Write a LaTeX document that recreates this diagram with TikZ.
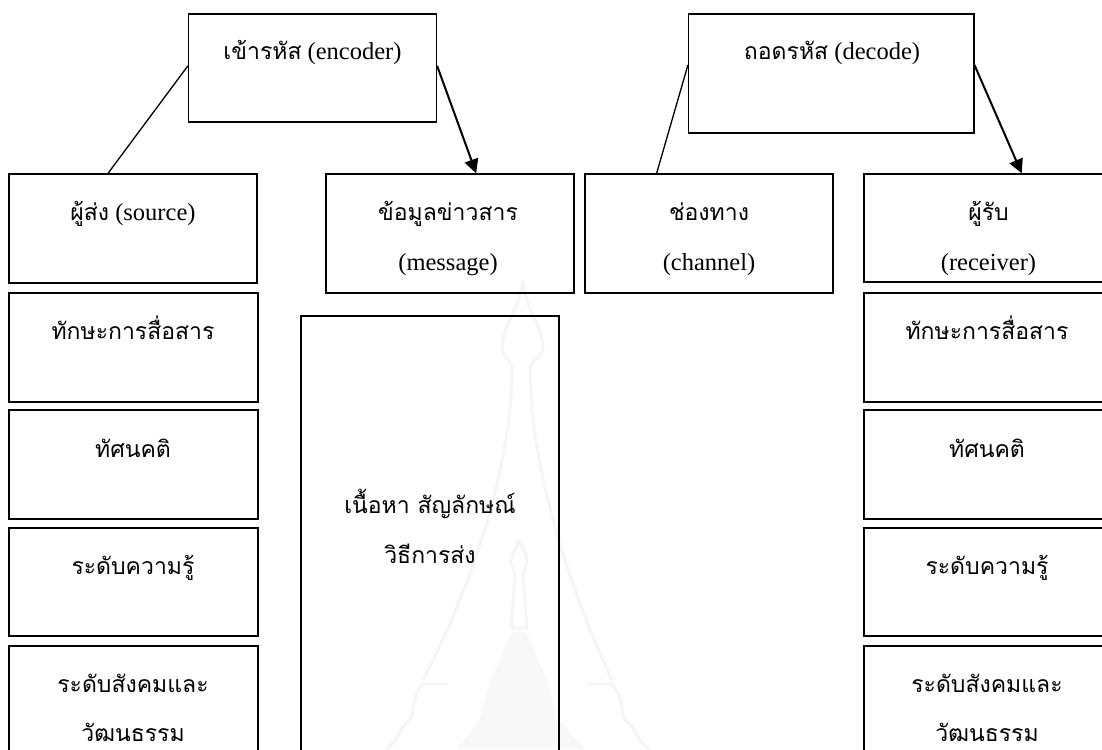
\documentclass[tikz,border=0pt]{standalone}
\usepackage{fontspec}
\setmainfont{Liberation Serif}
\newfontfamily\thaifont[Script=Thai]{Loma}
\newcommand{\thx}[1]{{\thaifont\fontsize{23}{23}\selectfont #1}}
\usetikzlibrary{arrows.meta,calc}
\definecolor{wmark}{HTML}{F5F5F5}
\definecolor{wmarkb}{HTML}{F8F8F8}
\tikzset{
  boxs/.style={draw=black,line width=1.4pt,rectangle,inner sep=0pt},
  lab/.style={align=center,font=\fontsize{24.5}{50}\selectfont,inner sep=0pt,anchor=base},
  conn/.style={line width=1.3pt},
  arr/.style={line width=2pt,-{Triangle[length=14pt,width=14pt]}},
  wm/.style={draw=wmark,line width=3pt,line join=round}
}
\begin{document}
\begin{tikzpicture}[x=1pt,y=-1pt]
\useasboundingbox (0,0) rectangle (1102,749);
\fill[white] (0,0) rectangle (1102,749);
% faint watermark
\draw[wm] (522.7,280) .. controls (520,310) and (502,325) .. (502,348)
  .. controls (502,356) and (510,360) .. (512,367)
  .. controls (512,470) and (470,590) .. (423,680);
\draw[wm] (522.7,280) .. controls (525,310) and (543,325) .. (543,348)
  .. controls (543,356) and (532,360) .. (530,367)
  .. controls (530,470) and (570,590) .. (612,680);
\draw[wm] (448,684) -- (423,684) .. controls (410,700) and (415,710) .. (410,720)
  .. controls (400,725) and (400,740) .. (386,749);
\draw[wm] (587,684) -- (612,684) .. controls (625,700) and (620,710) .. (625,720)
  .. controls (635,725) and (635,740) .. (650,749);
\draw[wm] (519,540) .. controls (515,550) and (511,555) .. (511,560)
  .. controls (511,568) and (515,570) .. (515,575) -- (511,628)
  -- (527,628) -- (523,575) .. controls (523,570) and (527,568) .. (527,560)
  .. controls (527,555) and (523,550) .. (519,540);
\fill[wmarkb] (512,632) -- (526,632) -- (547,680) -- (557,718) -- (585,749)
  -- (458,749) -- (480,718) -- (491,680) -- cycle;
% boxes
\node[boxs,minimum width=247.8pt,minimum height=108pt] (enc) at (312.5,68) {};
\node[boxs,minimum width=285.2pt,minimum height=119pt] (dec) at (831.2,73.5) {};
\node[boxs,minimum width=248pt,minimum height=109pt] (src) at (133,228.5) {};
\node[boxs,minimum width=248pt,minimum height=119pt] (msg) at (450,233.5) {};
\node[boxs,minimum width=248pt,minimum height=119pt] (chn) at (709,233.5) {};
\node[boxs,minimum width=250pt,minimum height=108pt] (rcv) at (989,228) {};
\node[boxs,minimum width=258pt,minimum height=450pt] (cnt) at (430,541) {};
\node[boxs,minimum width=249pt,minimum height=109pt] (l1) at (133.5,347.5) {};
\node[boxs,minimum width=249pt,minimum height=109pt] (l2) at (133.5,464.5) {};
\node[boxs,minimum width=249pt,minimum height=108pt] (l3) at (133.5,582) {};
\node[boxs,minimum width=249pt,minimum height=120pt] (l4) at (133.5,706) {};
\node[boxs,minimum width=250pt,minimum height=109pt] (r1) at (989,347.5) {};
\node[boxs,minimum width=250pt,minimum height=109pt] (r2) at (989,464.5) {};
\node[boxs,minimum width=250pt,minimum height=108pt] (r3) at (989,582) {};
\node[boxs,minimum width=250pt,minimum height=120pt] (r4) at (989,706) {};
% text
\node[lab] (t1) at (312.5,60) {\thx{เข้ารหัส} (encoder)};
\node[lab] (t2) at (832,60) {\thx{ถอดรหัส} (decode)};
\node[lab] (t3) at (133,220) {\thx{ผู้ส่ง} (source)};
\node[lab] (t4) at (448,220) {\thx{ข้อมูลข่าวสาร}};
\node[lab] (t5) at (448,270) {(message)};
\node[lab] (t6) at (709,220) {\thx{ช่องทาง}};
\node[lab] (t7) at (709,270) {(channel)};
\node[lab] (t8) at (988.5,220) {\thx{ผู้รับ}};
\node[lab] (t9) at (988.5,270) {(receiver)};
\node[lab] (t10) at (430,513) {\thx{เนื้อหา สัญลักษณ์}};
\node[lab] (t11) at (430,563) {\thx{วิธีการส่ง}};
\node[lab] (u1) at (133,339) {\thx{ทักษะการสื่อสาร}};
\node[lab] (u2) at (133,457) {\thx{ทัศนคติ}};
\node[lab] (u3) at (133,574) {\thx{ระดับความรู้}};
\node[lab] (u4) at (133,692) {\thx{ระดับสังคมและ}};
\node[lab] (u5) at (133,741) {\thx{วัฒนธรรม}};
\node[lab] (v1) at (987,339) {\thx{ทักษะการสื่อสาร}};
\node[lab] (v2) at (987,457) {\thx{ทัศนคติ}};
\node[lab] (v3) at (987,574) {\thx{ระดับความรู้}};
\node[lab] (v4) at (987,692) {\thx{ระดับสังคมและ}};
\node[lab] (v5) at (987,741) {\thx{วัฒนธรรม}};
% connectors
\draw[conn] ($(enc.north west)!0.48!(enc.south west)$) -- ($(src.north west)!0.4!(src.north east)$);
\draw[arr] ($(enc.north east)!0.48!(enc.south east)$) -- ($(msg.north west)!0.605!(msg.north east)$);
\draw[conn] ($(dec.north west)!0.43!(dec.south west)$) -- ($(chn.north west)!0.29!(chn.north east)$);
\draw[arr] ($(dec.north east)!0.43!(dec.south east)$) -- ($(rcv.north west)!0.63!(rcv.north east)$);
\end{tikzpicture}
\end{document}
